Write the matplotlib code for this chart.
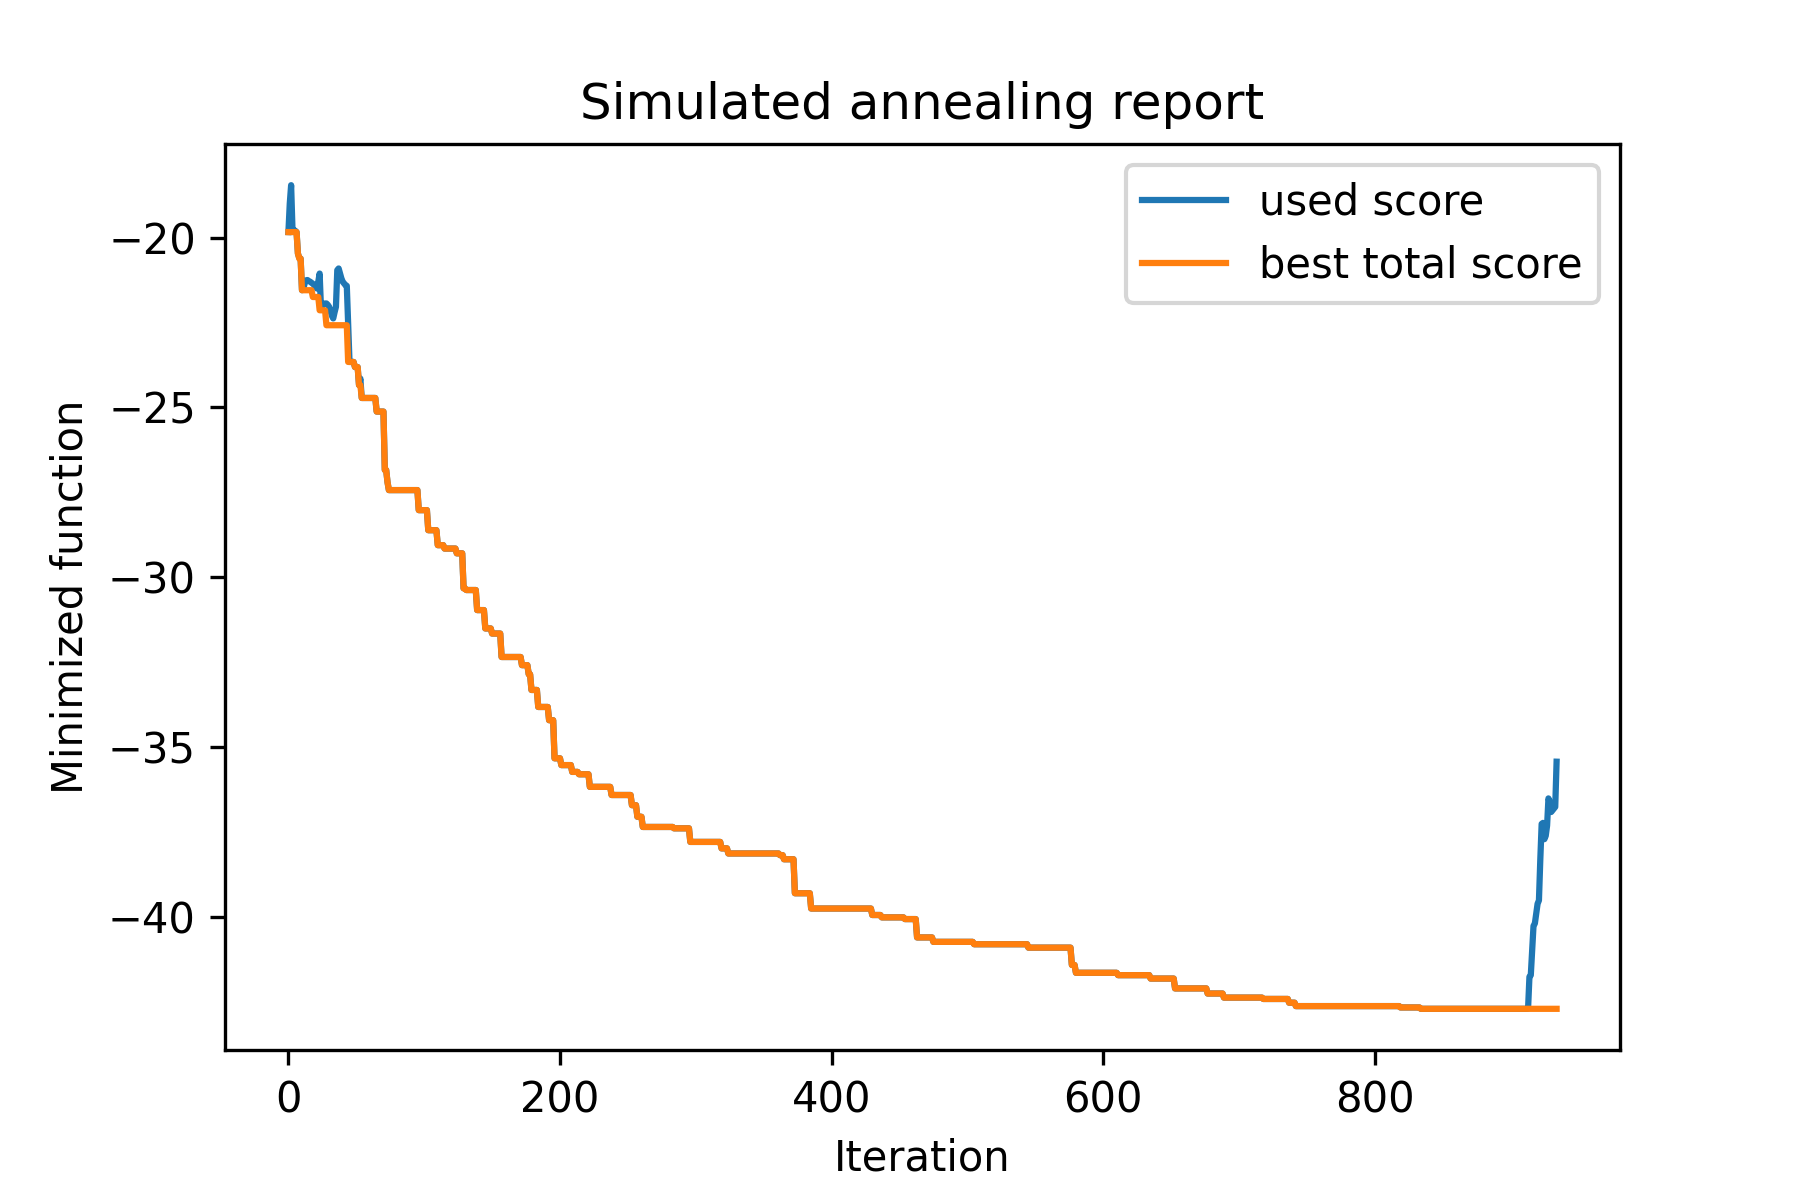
import numpy as np
import matplotlib
matplotlib.use("Agg")
import matplotlib.pyplot as plt

# number of iterations recorded (0 .. last_iteration)
last_iteration = 934

# best total score: iteration at which a new best value starts, and that value
best_change_iter = [0, 7, 8, 10, 18, 23, 28, 44, 49, 52, 54, 65, 71, 73, 74,
                    96, 103, 110, 115, 124, 129, 131, 139, 145, 150, 157, 172,
                    177, 179, 184, 192, 196, 201, 209, 214, 222, 238, 253, 257,
                    261, 284, 296, 319, 324, 362, 365, 373, 385, 430, 437, 454,
                    463, 475, 505, 545, 577, 580, 611, 635, 653, 677, 689, 718,
                    737, 742, 819, 834]
best_change_val = [-19.84, -20.47, -20.62, -21.55, -21.75, -22.14, -22.58,
                   -23.66, -23.81, -24.34, -24.72, -25.12, -26.84, -27.2,
                   -27.43, -28.02, -28.61, -29.05, -29.15, -29.29, -30.32,
                   -30.37, -30.96, -31.5, -31.65, -32.34, -32.58, -32.85,
                   -33.31, -33.81, -34.2, -35.32, -35.52, -35.72, -35.79,
                   -36.16, -36.4, -36.7, -37.04, -37.34, -37.38, -37.78,
                   -37.97, -38.12, -38.17, -38.29, -39.29, -39.74, -39.93,
                   -40.0, -40.05, -40.59, -40.72, -40.79, -40.89, -41.4,
                   -41.63, -41.7, -41.8, -42.09, -42.24, -42.36, -42.4,
                   -42.51, -42.61, -42.65, -42.69]

# used score where it differs from the best total score
used_early_iter = list(range(0, 45))
used_early_val = [-19.84, -19.0, -18.46, -19.76, -19.78, -19.8, -19.84,
                  -20.47, -20.6, -20.62, -21.55, -21.5, -21.35, -21.26,
                  -21.25, -21.28, -21.3, -21.33, -21.36, -21.4, -21.45,
                  -21.5, -21.3, -21.06, -22.09, -22.0, -21.95, -21.94,
                  -21.94, -21.98, -22.04, -22.15, -22.3, -22.38, -22.2,
                  -22.04, -20.96, -20.91, -21.05, -21.2, -21.3, -21.35,
                  -21.4, -21.42, -22.58]
used_mid_iter = [53]
used_mid_val = [-24.15]
used_late_iter = list(range(913, 935))
used_late_val = [-42.68, -41.75, -41.7, -41.0, -40.25, -40.18, -39.9, -39.6,
                 -39.5, -38.3, -37.25, -37.22, -37.7, -37.6, -37.3, -36.5,
                 -36.6, -36.9, -36.85, -36.8, -36.75, -35.42]

# build per-iteration series
iterations = np.arange(last_iteration + 1)
best = np.empty(last_iteration + 1)
bounds = best_change_iter + [last_iteration + 1]
for i, v in enumerate(best_change_val):
    best[bounds[i]:bounds[i + 1]] = v

used = best.copy()
for it_list, val_list in ((used_early_iter, used_early_val),
                          (used_mid_iter, used_mid_val),
                          (used_late_iter, used_late_val)):
    used[np.array(it_list)] = val_list

fig, ax = plt.subplots(figsize=(6, 4), dpi=300)
fig.subplots_adjust(left=0.125, right=0.9, bottom=0.125, top=0.88)
ax.plot(iterations, used, label="used score")
ax.plot(iterations, best, label="best total score")
ax.set_title("Simulated annealing report")
ax.set_xlabel("Iteration")
ax.set_ylabel("Minimized function")
ax.legend()
fig.savefig("out.png", dpi=300)
